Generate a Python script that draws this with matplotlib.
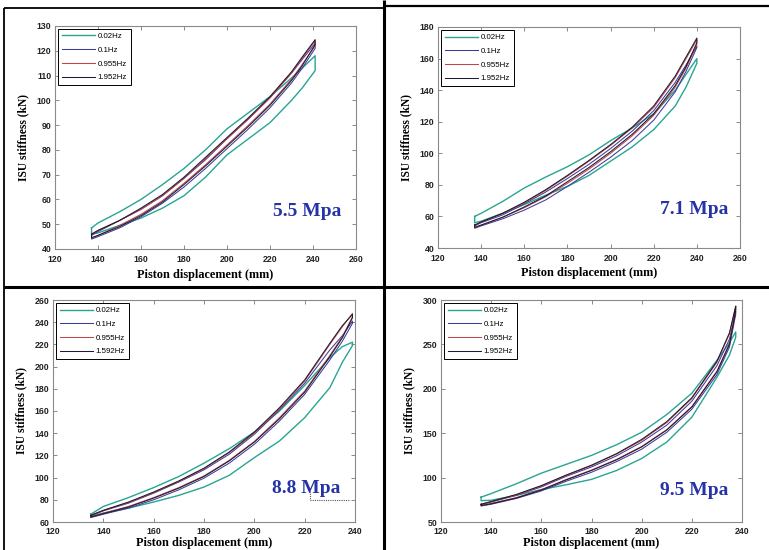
import matplotlib
matplotlib.use("Agg")
import matplotlib.pyplot as plt
from matplotlib.lines import Line2D

# ---------------- data ----------------
LABELS_A = ["0.02Hz", "0.1Hz", "0.955Hz", "1.952Hz"]
LABELS_C = ["0.02Hz", "0.1Hz", "0.955Hz", "1.592Hz"]
COLORS = ["#27a592", "#3c3ca0", "#c4444e", "#1c1c2c"]

# Panel 1: 5.5 Mpa
X1 = [137, 140, 150, 160, 170, 180, 190, 200, 210, 220, 230, 235, 241]
P1_002_UP = [48.5, 50.5, 55, 60, 66, 72.5, 80, 88.5, 95, 101.5, 109, 113, 118]
P1_002_LO = [46, 46.5, 49.5, 52.5, 56.5, 61.5, 69, 78, 84.5, 91, 100, 105, 112]
P1_01_UP = [45.5, 47, 51.5, 56, 61.5, 68.5, 76, 84.5, 92.5, 101, 111, 116.5, 123]
P1_01_LO = [44, 45, 48.5, 53, 58.5, 65, 72.5, 80.5, 88.5, 97, 107, 113, 121]
P1_0955_UP = [46, 47.5, 51.5, 56, 61.5, 68.5, 76.5, 84.5, 92.5, 101, 111, 117, 124]
P1_0955_LO = [44.5, 45.5, 49.5, 54, 59.5, 66.5, 74, 82, 90, 98.5, 108.5, 114.5, 122]
P1_1952_UP = [46, 47.5, 51.5, 56.5, 62, 69, 77, 85, 93, 101.5, 111.5, 117.5, 124.5]
P1_1952_LO = [44.5, 45.5, 49, 53.5, 59, 66, 73.5, 81.5, 89.5, 98, 108, 114, 122.5]

# Panel 2: 7.1 Mpa
X2 = [137, 140, 150, 160, 170, 180, 190, 200, 210, 220, 230, 235, 240]
P2_002_UP = [60, 62, 69.5, 78, 85, 91.5, 99, 108, 116, 125, 140, 150, 160]
P2_002_LO = [56, 57, 62, 67.5, 73.5, 79, 86, 95, 104, 115, 130, 142, 157]
P2_01_UP = [54, 56, 61, 68, 75.5, 84, 93, 103, 114, 127, 145, 156, 168]
P2_01_LO = [52.5, 54, 58.5, 64, 70.5, 79, 88, 97.5, 108, 121, 139, 152, 167]
P2_0955_UP = [54.5, 56.5, 62, 68.5, 76.5, 85.5, 95, 105, 116, 129, 148, 160, 172]
P2_0955_LO = [53, 54.5, 59.5, 65.5, 72.5, 81, 90, 100, 111, 124, 142, 154, 169]
P2_1952_UP = [54.5, 56.5, 62, 69, 77, 86, 95.5, 105.5, 116.5, 130, 149, 161, 173]
P2_1952_LO = [53, 54.5, 59.5, 66, 73, 82, 91, 101, 112, 125, 143, 155, 170]

# Panel 3: 8.8 Mpa
X3 = [135, 140, 150, 160, 170, 180, 190, 200, 210, 220, 230, 235, 239]
P3_002_UP = [67, 74, 82, 91, 101, 113, 126, 141, 160, 183, 208, 218, 222]
P3_002_LO = [65, 68, 72.5, 78, 84, 91.5, 102, 118, 133, 154, 181, 204, 219]
P3_01_UP = [65.5, 70, 77, 86, 96, 107, 121, 139, 161, 185, 215, 228, 241]
P3_01_LO = [64, 67, 72.5, 80, 89, 99.5, 113, 130, 151, 175, 206, 223, 239]
P3_0955_UP = [66, 70.5, 77.5, 86.5, 96.5, 108, 122.5, 140, 162, 187, 220, 236, 248]
P3_0955_LO = [64.5, 68, 74, 82, 91, 101.5, 115.5, 132.5, 154, 178, 210, 227, 245]
P3_1592_UP = [66, 70.5, 78, 87, 97, 108.5, 123, 141, 163, 188, 221, 237, 247]
P3_1592_LO = [64.5, 67.5, 73.5, 81.5, 90.5, 101, 115, 132, 153, 177, 209, 226, 244]
P3_MARK_X = [222, 222, 238]
P3_MARK_Y = [88, 80, 80]

# Panel 4: 9.5 Mpa
X4 = [136, 140, 150, 160, 170, 180, 190, 200, 210, 220, 230, 235, 237.5]
P4_002_UP = [78, 82, 93, 105, 115, 125, 137, 151, 171, 195, 232, 252, 264]
P4_002_LO = [74, 74.5, 80, 86.5, 92, 98, 108, 121.5, 140, 168, 213, 238, 258]
P4_01_UP = [69.5, 72.5, 80, 89.5, 101.5, 112, 124.5, 140, 159, 186, 226, 256, 287]
P4_01_LO = [68, 70, 76.5, 85, 96, 106, 118, 132, 151, 177, 216, 247, 284]
P4_0955_UP = [70, 73, 80.5, 90.5, 102.5, 113.5, 126.5, 142, 162, 189, 230, 262, 293]
P4_0955_LO = [68.5, 71, 77.5, 86.5, 98, 108.5, 120.5, 135, 154, 180, 220, 251, 289]
P4_1952_UP = [70, 73, 81, 91, 103, 114, 127, 143, 163, 190, 231, 263, 293]
P4_1952_LO = [68.5, 70.5, 77, 86, 97.5, 108, 120, 134.5, 153.5, 179.5, 219, 250, 288]

PANELS = [
    dict(x=X1, loops=[(P1_002_UP, P1_002_LO), (P1_01_UP, P1_01_LO), (P1_0955_UP, P1_0955_LO), (P1_1952_UP, P1_1952_LO)],
         labels=LABELS_A, title="5.5 Mpa", xlim=(120, 260), xticks=list(range(120, 261, 20)),
         ylim=(40, 130), yticks=list(range(40, 131, 10)),
         rect=[55, 26, 356, 249], txt=(0.837, 0.166), xpad=4.5, lpad=3.5),
    dict(x=X2, loops=[(P2_002_UP, P2_002_LO), (P2_01_UP, P2_01_LO), (P2_0955_UP, P2_0955_LO), (P2_1952_UP, P2_1952_LO)],
         labels=LABELS_A, title="7.1 Mpa", xlim=(120, 260), xticks=list(range(120, 261, 20)),
         ylim=(40, 180), yticks=list(range(40, 181, 20)),
         rect=[438, 27, 740, 248], txt=(0.848, 0.172), xpad=4.5, lpad=3.0),
    dict(x=X3, loops=[(P3_002_UP, P3_002_LO), (P3_01_UP, P3_01_LO), (P3_0955_UP, P3_0955_LO), (P3_1592_UP, P3_1592_LO)],
         labels=LABELS_C, title="8.8 Mpa", xlim=(120, 240), xticks=list(range(120, 241, 20)),
         ylim=(60, 260), yticks=list(range(60, 261, 20)),
         rect=[53, 300, 355, 522], txt=(0.838, 0.153), xpad=3.5, lpad=0.8),
    dict(x=X4, loops=[(P4_002_UP, P4_002_LO), (P4_01_UP, P4_01_LO), (P4_0955_UP, P4_0955_LO), (P4_1952_UP, P4_1952_LO)],
         labels=LABELS_A, title="9.5 Mpa", xlim=(120, 240), xticks=list(range(120, 241, 20)),
         ylim=(50, 300), yticks=list(range(50, 301, 50)),
         rect=[441, 300, 742, 522], txt=(0.84, 0.144), xpad=3.5, lpad=0.5),
]

W, H = 769, 550
fig = plt.figure(figsize=(W / 100, H / 100), dpi=100)
fig.patch.set_facecolor("white")

SERIF = ["Liberation Serif", "DejaVu Serif"]
SANS = ["Liberation Sans", "DejaVu Sans"]

for i, p in enumerate(PANELS):
    l, t, r, b = p["rect"]
    ax = fig.add_axes([l / W, 1 - b / H, (r - l) / W, (b - t) / H])
    x = p["x"]
    for k, (up, lo) in enumerate(p["loops"]):
        xs = list(x) + list(x[::-1]) + [x[0]]
        ys = list(up) + list(lo[::-1]) + [up[0]]
        lw = 1.0 if k == 0 else 0.75
        ax.plot(xs, ys, color=COLORS[k], lw=lw, label=p["labels"][k], solid_joinstyle="round")
    if i == 2:
        ax.plot(P3_MARK_X, P3_MARK_Y, color="#555555", lw=0.8, ls=(0, (1, 1)))
    ax.set_xlim(*p["xlim"])
    ax.set_ylim(*p["ylim"])
    ax.set_xticks(p["xticks"])
    ax.set_yticks(p["yticks"])
    ax.tick_params(direction="in", length=3, width=0.6, color="#777777",
                   top=True, right=True, labelsize=6.3)
    ax.tick_params(axis="x", pad=p["xpad"])
    ax.tick_params(axis="y", pad=2.5)
    for lab in ax.get_xticklabels() + ax.get_yticklabels():
        lab.set_family(SANS)
        lab.set_fontweight("bold")
        lab.set_color("#222222")
    for s in ax.spines.values():
        s.set_color("#8a8a8a")
        s.set_linewidth(0.8)
    ax.set_xlabel("Piston displacement (mm)", family=SERIF, fontweight="bold", fontsize=8.8, labelpad=p["lpad"])
    ax.set_ylabel("ISU stiffness (kN)", family=SERIF, fontweight="bold", fontsize=8.3, labelpad=5.5)
    leg = ax.legend(loc="upper left", prop={"family": SANS, "size": 5.7}, handlelength=4.2,
                    handletextpad=0.35, labelspacing=0.78, borderpad=0.5, borderaxespad=0.35,
                    fancybox=False, framealpha=1, edgecolor="black")
    leg.get_frame().set_linewidth(0.7)
    ax.text(p["txt"][0], p["txt"][1], p["title"], transform=ax.transAxes, ha="center", va="center",
            family=SERIF, fontweight="bold", fontsize=14, color="#2533a6")

def fline(x0, y0, x1, y1, lw):
    fig.add_artist(Line2D([x0 / W, x1 / W], [1 - y0 / H, 1 - y1 / H], color="black", lw=lw,
                          transform=fig.transFigure, solid_capstyle="butt"))

# panel frames
fline(4, 8, 384, 8, 1.3)
fline(4, 8, 4, 550, 1.3)
fline(384, 6, 769, 6, 1.6)
fline(384, 0, 384, 550, 2.2)
fline(4, 287, 769, 287, 2.2)

fig.savefig("out.png", dpi=100, facecolor="white")
